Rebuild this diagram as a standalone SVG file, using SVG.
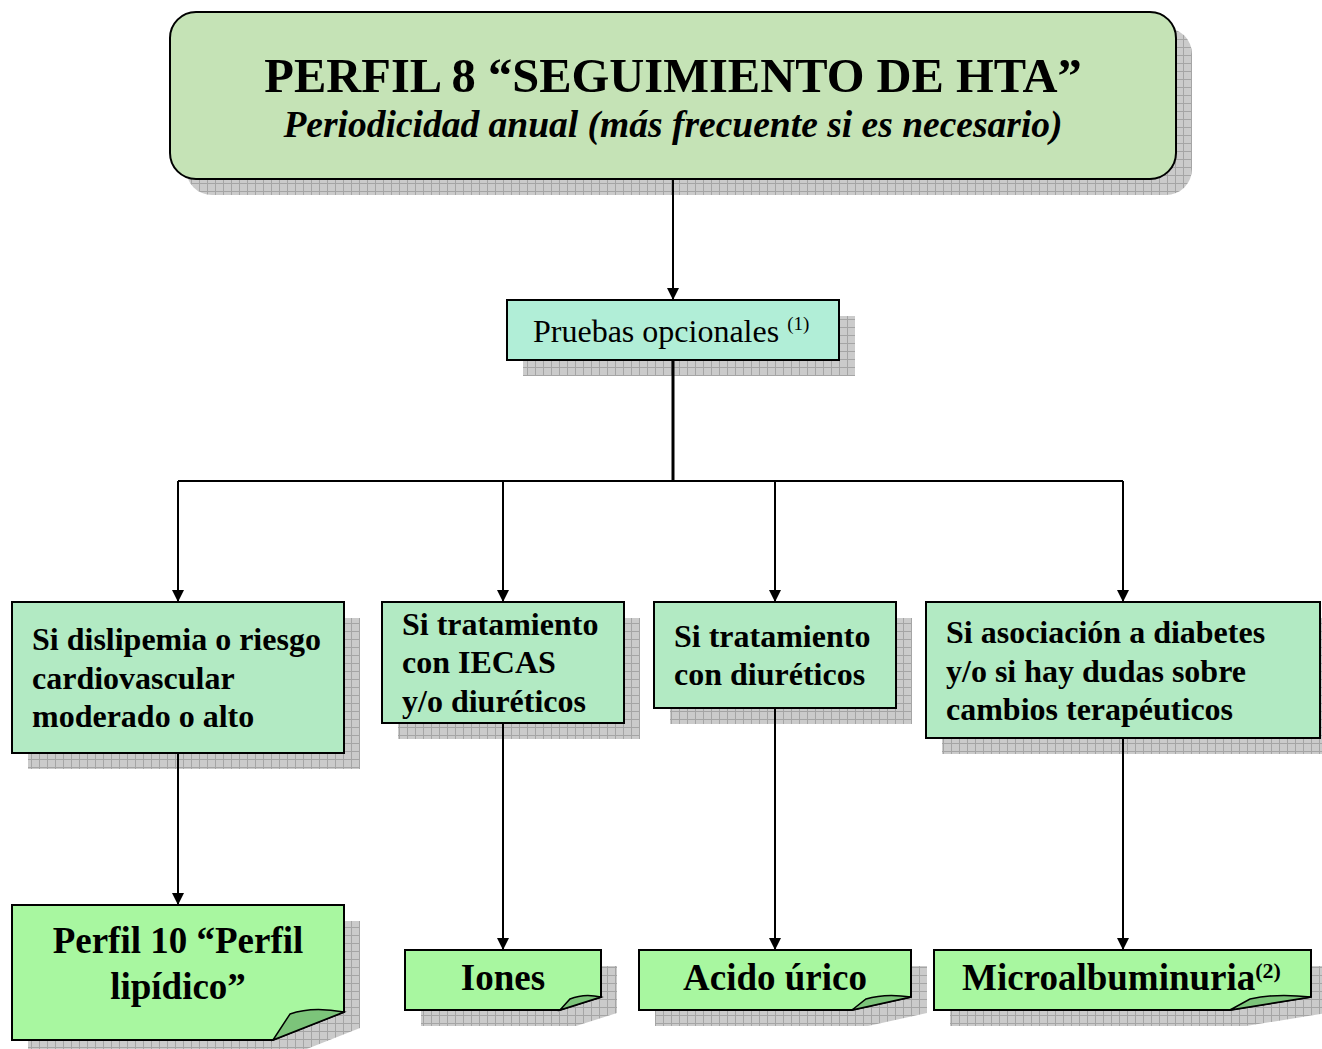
<svg xmlns="http://www.w3.org/2000/svg" width="1322" height="1049" viewBox="0 0 1322 1049">
<style>
.t{font-family:"Liberation Serif","Times New Roman",serif;fill:#000}
.b{font-weight:bold}
.box{stroke:#000;stroke-width:2}
.shadow{fill:url(#grid)}
.con{stroke:#000;stroke-width:2;fill:none}
.fold{fill:#7cc47a;stroke:#000;stroke-width:1.5}
</style>
<defs>
<pattern id="grid" width="8" height="8" patternUnits="userSpaceOnUse">
<rect width="8" height="8" fill="#cbcbcb"/>
<path d="M7.5 0V8M0 7.5H8" stroke="#a5a5a5" stroke-width="1"/>
</pattern>
<marker id="arr" viewBox="0 0 12 12" refX="12" refY="6" markerWidth="12" markerHeight="12" markerUnits="userSpaceOnUse" orient="auto">
<path d="M0 0L12 6L0 12Z" fill="#000"/>
</marker>
</defs>
<rect width="1322" height="1049" fill="#fff"/>

<g id="shadows">
<rect class="shadow" x="186" y="28" width="1006" height="167" rx="26"/>
<rect class="shadow" x="523" y="316" width="332" height="60"/>
<rect class="shadow" x="28" y="618" width="332" height="151"/>
<rect class="shadow" x="398" y="618" width="242" height="121"/>
<rect class="shadow" x="670" y="618" width="242" height="106"/>
<rect class="shadow" x="942" y="618" width="394" height="136"/>
<path class="shadow" d="M28 921H360V1028L289 1056H28Z"/>
<path class="shadow" d="M421 966H617V1013L576 1026H421Z"/>
<path class="shadow" d="M655 966H927V1013L868 1026H655Z"/>
<path class="shadow" d="M950 966H1327V1013L1246 1026H950Z"/>
</g>

<g id="connectors">
<line class="con" x1="673" y1="179" x2="673" y2="300" marker-end="url(#arr)"/>
<line x1="673" y1="360" x2="673" y2="482" stroke="#000" stroke-width="3"/>
<line class="con" x1="178" y1="481" x2="1123" y2="481"/>
<line class="con" x1="178" y1="481" x2="178" y2="602" marker-end="url(#arr)"/>
<line class="con" x1="503" y1="481" x2="503" y2="602" marker-end="url(#arr)"/>
<line class="con" x1="775" y1="481" x2="775" y2="602" marker-end="url(#arr)"/>
<line class="con" x1="1123" y1="481" x2="1123" y2="602" marker-end="url(#arr)"/>
<line class="con" x1="178" y1="753" x2="178" y2="905" marker-end="url(#arr)"/>
<line class="con" x1="503" y1="723" x2="503" y2="950" marker-end="url(#arr)"/>
<line class="con" x1="775" y1="708" x2="775" y2="950" marker-end="url(#arr)"/>
<line class="con" x1="1123" y1="738" x2="1123" y2="950" marker-end="url(#arr)"/>
</g>

<g id="title">
<rect class="box" x="170" y="12" width="1006" height="167" rx="26" fill="#c5e3b6"/>
<text class="t b" x="673" y="92" font-size="48.5" text-anchor="middle">PERFIL 8 “SEGUIMIENTO DE HTA”</text>
<text class="t b" x="673" y="137" font-size="37.5" font-style="italic" text-anchor="middle">Periodicidad anual (más frecuente si es necesario)</text>
</g>

<g id="pruebas">
<rect class="box" x="507" y="300" width="332" height="60" fill="#b1eed7"/>
<text class="t" x="533" y="342" font-size="32">Pruebas opcionales <tspan font-size="19" dy="-12">(1)</tspan></text>
</g>

<g id="dislipemia">
<rect class="box" x="12" y="602" width="332" height="151" fill="#b2eac3"/>
<text class="t b" font-size="32"><tspan x="32" y="650">Si dislipemia o riesgo</tspan><tspan x="32" y="689">cardiovascular</tspan><tspan x="32" y="727">moderado o alto</tspan></text>
</g>

<g id="iecas">
<rect class="box" x="382" y="602" width="242" height="121" fill="#b2eac3"/>
<text class="t b" font-size="32"><tspan x="402" y="635">Si tratamiento</tspan><tspan x="402" y="673">con IECAS</tspan><tspan x="402" y="712">y/o diuréticos</tspan></text>
</g>

<g id="diureticos">
<rect class="box" x="654" y="602" width="242" height="106" fill="#b2eac3"/>
<text class="t b" font-size="32"><tspan x="674" y="647">Si tratamiento</tspan><tspan x="674" y="685">con diuréticos</tspan></text>
</g>

<g id="diabetes">
<rect class="box" x="926" y="602" width="394" height="136" fill="#b2eac3"/>
<text class="t b" font-size="32"><tspan x="946" y="643">Si asociación a diabetes</tspan><tspan x="946" y="682">y/o si hay dudas sobre</tspan><tspan x="946" y="720">cambios terapéuticos</tspan></text>
</g>

<g id="perfil10">
<path class="box" d="M12 905H344V1012L273 1040H12Z" fill="#a8f7a0"/>
<path class="fold" d="M273 1040L290 1014Q312 1006 344 1012Z"/>
<text class="t b" font-size="37" text-anchor="middle"><tspan x="178" y="953">Perfil 10 “Perfil</tspan><tspan x="178" y="999">lipídico”</tspan></text>
</g>

<g id="iones">
<path class="box" d="M405 950H601V997L560 1010H405Z" fill="#a8f7a0"/>
<path class="fold" d="M560 1010L570 999Q584 993 601 997Z"/>
<text class="t b" x="503" y="990" font-size="37" text-anchor="middle">Iones</text>
</g>

<g id="acido">
<path class="box" d="M639 950H911V997L852 1010H639Z" fill="#a8f7a0"/>
<path class="fold" d="M852 1010L866 999Q885 993 911 997Z"/>
<text class="t b" x="775" y="990" font-size="37" text-anchor="middle">Acido úrico</text>
</g>

<g id="micro">
<path class="box" d="M934 950H1311V997L1230 1010H934Z" fill="#a8f7a0"/>
<path class="fold" d="M1230 1010L1250 999Q1275 993 1311 997Z"/>
<text class="t b" x="962" y="990" font-size="37">Microalbuminuria<tspan font-size="22" dy="-12">(2)</tspan></text>
</g>
</svg>
